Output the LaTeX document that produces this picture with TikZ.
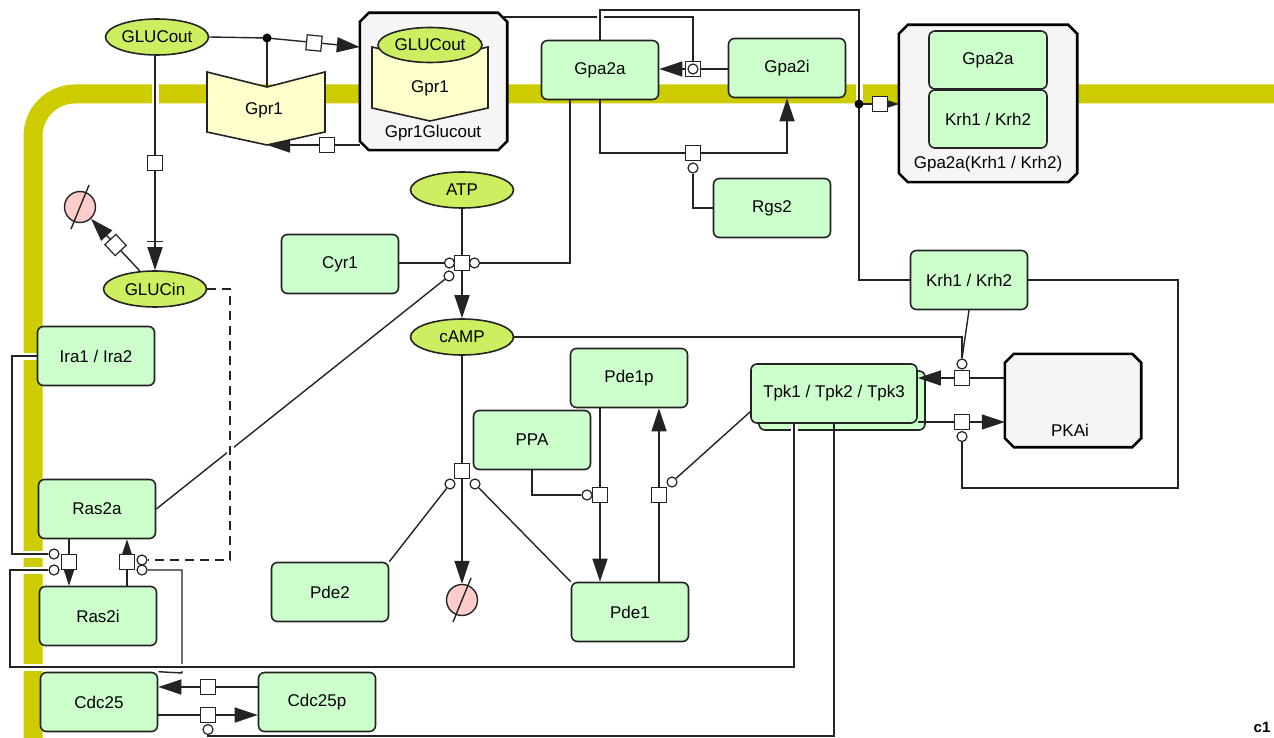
\documentclass[tikz,border=0pt]{standalone}
\usepackage{fontspec}
\setmainfont{Liberation Sans}
\usetikzlibrary{arrows.meta,shapes.geometric,calc}
\pgfdeclarelayer{memb}
\pgfdeclarelayer{bg}
\pgfsetlayers{memb,bg,main}
\definecolor{boxg}{RGB}{204,255,204}
\definecolor{ellg}{RGB}{204,238,96}
\definecolor{membc}{RGB}{204,204,0}
\definecolor{recy}{RGB}{255,255,204}
\definecolor{cplxg}{RGB}{245,245,245}
\definecolor{degp}{RGB}{255,204,204}
\definecolor{edgec}{RGB}{35,35,35}
\newcommand{\dlbl}{\fontsize{17}{20}\selectfont}
\newcommand{\cplxframe}[2]{%
  \draw[draw=black, fill=cplxg, line width=2.6pt]
    ($(#1.north west)+(#2,0)$) -- ($(#1.north east)+(-#2,0)$) --
    ($(#1.north east)+(0,#2)$) -- ($(#1.south east)+(0,-#2)$) --
    ($(#1.south east)+(-#2,0)$) -- ($(#1.south west)+(#2,0)$) --
    ($(#1.south west)+(0,-#2)$) -- ($(#1.north west)+(0,#2)$) -- cycle;}
\begin{document}
\begin{tikzpicture}[x=1pt,y=-1pt,
 line/.style={draw=edgec, line width=1.4pt},
 arr/.style={line, -{Triangle[length=23pt,width=15pt]}},
 halo/.style={preaction={draw=white, line width=7pt, solid, -}},
 box/.style={draw=edgec, fill=boxg, rounded corners=6pt, line width=1.6pt, minimum width=117pt, minimum height=59pt, inner sep=0pt, font=\dlbl},
 ell/.style={ellipse, draw=edgec, fill=ellg, line width=1.6pt, minimum width=103pt, minimum height=36pt, inner sep=0pt, font=\dlbl},
 cplx/.style={rectangle, draw=none, inner sep=0pt},
 proc/.style={rectangle, draw=edgec, fill=white, minimum size=15pt, inner sep=0pt, line width=1.2pt},
 modc/.style={circle, draw=edgec, fill=white, minimum size=10pt, inner sep=0pt, line width=1.2pt},
 jdot/.style={circle, fill=black, minimum size=9pt, inner sep=0pt},
 deg/.style={circle, draw=edgec, fill=degp, minimum size=31pt, inner sep=0pt, line width=1.4pt},
 rec/.style={draw=edgec, fill=recy, line width=1.6pt},
 txt/.style={font=\dlbl, inner sep=0pt}
]
\useasboundingbox (0,0) rectangle (1274,738);

% ---------- nodes ----------
\node[ell] (gout) at (157,37) {GLUCout};
\draw[rec] (207,72) -- (267,87) -- (325,72) -- (325,132) -- (267,145) -- (207,132) -- cycle;
\node[txt] (gpr1) at (264,110) {Gpr1};
\coordinate (gpr1top) at (267,87);
\coordinate (gpr1bot) at (267,145);

\node[cplx, minimum width=147pt, minimum height=137pt] (cg) at (433.5,81.5) {};
\cplxframe{cg}{9}
\draw[rec] (372,47) -- (430,60) -- (488,47) -- (488,108) -- (430,121) -- (372,108) -- cycle;
\node[ell, minimum width=104pt, minimum height=35pt] (cgout) at (430,45) {GLUCout};
\node[txt] (cgpr1) at (430,88) {Gpr1};
\node[txt] (cglab) at (433,133) {Gpr1Glucout};

\node[box] (gpa2a) at (600,70) {Gpa2a};
\node[box] (gpa2i) at (787,68) {Gpa2i};
\node[cplx, minimum width=178pt, minimum height=157pt] (ck) at (988,103.5) {};
\cplxframe{ck}{9}
\node[box, minimum width=118pt, minimum height=58pt] (ckg) at (988,60) {Gpa2a};
\node[box, minimum width=118pt, minimum height=58pt] (ckk) at (988,119) {Krh1 / Krh2};
\node[txt] (cklab) at (988,164) {Gpa2a(Krh1 / Krh2)};
\node[box] (rgs2) at (772,208) {Rgs2};
\node[ell] (atp) at (462,190) {ATP};
\node[box] (cyr1) at (340,264) {Cyr1};
\node[ell] (gin) at (155,289) {GLUCin};
\node[deg] (d1) at (80,207) {};
\node[box] (ira) at (96,356) {Ira1 / Ira2};
\node[box] (ras2a) at (97,509) {Ras2a};
\node[box] (ras2i) at (98,616) {Ras2i};
\node[box] (cdc25) at (99,702) {Cdc25};
\node[box] (cdc25p) at (317,702) {Cdc25p};
\node[ell] (camp) at (462,337) {cAMP};
\node[box] (pde1p) at (629,378) {Pde1p};
\node[box] (ppa) at (532,440) {PPA};
\node[box] (pde2) at (330,592) {Pde2};
\node[box] (pde1) at (630,612) {Pde1};
\node[deg] (d2) at (462,600) {};
\node[box, minimum width=166pt] (tpk) at (834,393.5) {Tpk1 / Tpk2 / Tpk3};
\node[cplx, minimum width=136pt, minimum height=93pt] (pkai) at (1073,400.5) {};
\cplxframe{pkai}{9}
\node[txt] (pkailab) at (1070,430) {PKAi};
\node[box] (krh) at (969,280) {Krh1 / Krh2};

% process nodes and modifiers
\node[jdot] (dotg) at (267,38) {};
\node[proc, rotate=-5.5] (pgc) at (314,43) {};
\node[proc] (pgr) at (327,145) {};
\node[proc] (pg1) at (693,69) {};
\node[modc] (mg1) at (693,69) {};
\node[proc] (pg2) at (693,153) {};
\node[modc] (mg2) at (693,168) {};
\node[jdot] (dotk) at (859,104) {};
\node[proc] (pj) at (880,104) {};
\node[proc] (pa) at (462,263) {};
\node[modc] (maL) at (449.5,263) {};
\node[modc] (maR) at (474.5,263) {};
\node[modc] (maD) at (449,276) {};
\node[proc] (pgg) at (155,163) {};
\node[proc, rotate=43] (pd1) at (115.5,245) {};
\node[proc] (pr1) at (69,562) {};
\node[modc] (mIra) at (54,554) {};
\node[modc] (mTr) at (54,570) {};
\node[proc] (pr2) at (127,562) {};
\node[modc] (mGlc) at (142,560) {};
\node[modc] (mCdc) at (142,570) {};
\node[proc] (pc1) at (208,687) {};
\node[proc] (pc2) at (208,715) {};
\node[modc] (mc) at (208,729.5) {};
\node[proc] (pcm) at (462,471) {};
\node[modc] (mdL) at (450,484) {};
\node[modc] (mdR) at (475,484) {};
\node[proc] (pp1) at (600,495) {};
\node[modc] (mp) at (587,495) {};
\node[proc] (pp2) at (659,495) {};
\node[modc] (mt) at (672,482) {};
\node[proc] (pk1) at (962,378) {};
\node[modc] (mk1) at (962,364) {};
\node[proc] (pk2) at (962,422) {};
\node[modc] (mk2) at (962,436.5) {};

\draw[line] ($(d1)+(-9,22)$) -- ($(d1)+(9,-22)$);
\draw[line] ($(d2)+(-9,22)$) -- ($(d2)+(9,-22)$);

\node[font=\bfseries\fontsize{15}{18}\selectfont, inner sep=0pt] (c1) at (1262,727) {c1};

% ---------- membrane ----------
\begin{pgfonlayer}{memb}
\draw[membc, line width=19pt, rounded corners=42pt] (1300,94) -- (33,94) -- (33,760);
\end{pgfonlayer}

% ---------- connectors ----------
\begin{pgfonlayer}{bg}
\node[box, minimum width=166pt] (tpkb) at (842,400.5) {};
% lines that are jumped over
\draw[line] (mCdc.east) -| (182,673) -- (cdc25.north east);
\draw[line] ($(cg.east)+(-3,-64.5)$) -| (pg1.north);
\draw[line] (ras2a.east) -- (maD);
% lines with halos
\draw[line,halo] (tpk.south -| 794,0) |- (10,667) |- (mTr.west);
\draw[line,halo] (gpa2a.north) |- (859,10) -- (859,280) -- (krh.west);
\draw[line,halo,dash pattern=on 9pt off 6pt] (gin.east) -| (230,560) -- (mGlc.east);
\draw[arr,halo] (gin.north |- gout.south) -- (gin.north);
\draw[line] ($(gin.north)+(-8,-29)$) -- ($(gin.north)+(8,-29)$);
\draw[line,halo] (ira.west) -| (12,554) -- (mIra.west);
% other lines
\draw[line] (gout.east) -- (dotg.center);
\draw[arr] (dotg.center) -- (cg.west |- 0,47);
\draw[line] (dotg.center) -- (gpr1top);
\draw[arr] (cg.west |- pgr) -- (gpr1bot);
\draw[arr] (gpa2i.west |- pg1) -- (gpa2a.east |- pg1);
\draw[arr] (gpa2a.south) |- (pg2.center) -| (gpa2i.south);
\draw[line] (rgs2.west) -| (mg2.south);
\draw[arr] (dotk.center) -- (ck.west |- dotk);
\draw[arr] (atp.south) -- (camp.north);
\draw[line] (cyr1.east |- maL) -- (maL.west);
\draw[line] (maR.east) -| ($(gpa2a.south)+(-30,0)$);
\draw[arr] (gin.130) -- (d1);
\draw[arr] (ras2a.south -| pr1) -- (ras2i.north -| pr1);
\draw[arr] (ras2i.north -| pr2) -- (ras2a.south -| pr2);
\draw[arr] (cdc25p.west |- pc1) -- (cdc25.east |- pc1);
\draw[arr] (cdc25.east |- pc2) -- (cdc25p.west |- pc2);
\draw[line] (tpk.south -| 834,0) -- (834,736) -| (mc.south);
\draw[arr] (camp.south) -- (d2);
\draw[line] (pde2.north east) -- (mdL);
\draw[line] (pde1.north west) -- (mdR);
\draw[arr] (pde1p.south -| pp1) -- (pde1.north -| pp1);
\draw[line] (ppa.south) |- (mp.west);
\draw[arr] (pde1.north -| pp2) -- (pde1p.south -| pp2);
\draw[line] ($(tpk.south west)+(0,-12)$) -- (mt);
\draw[line] (camp.east) -| (mk1.north);
\draw[line] (krh.south) -- (mk1.north);
\draw[arr] (pkai.west |- pk1) -- (tpk.east |- pk1);
\draw[arr] (tpk.east |- pk2) -- (pkai.west |- pk2);
\draw[line] (krh.east) -| (1178,488) -| (mk2.south);
\end{pgfonlayer}
\end{tikzpicture}
\end{document}
